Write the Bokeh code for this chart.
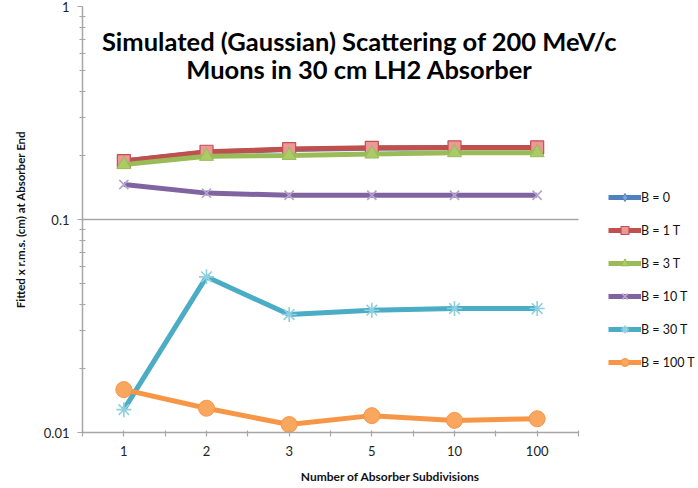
from bokeh.plotting import figure
from bokeh.models import FixedTicker, Label, Legend, LegendItem, Range1d
from bokeh.embed import file_html
from bokeh.resources import INLINE

# ---- data ----
subdivisions = ["1", "2", "3", "5", "10", "100"]
b0 = [0.188, 0.207, 0.213, 0.216, 0.217, 0.217]
b1 = [0.188, 0.208, 0.214, 0.217, 0.218, 0.218]
b3 = [0.181, 0.198, 0.200, 0.203, 0.206, 0.206]
b10 = [0.146, 0.133, 0.130, 0.130, 0.130, 0.130]
b30 = [0.0128, 0.0538, 0.0358, 0.0375, 0.0382, 0.0382]
b100 = [0.0159, 0.0130, 0.0109, 0.0120, 0.0114, 0.0116]

series_names = ["B = 0", "B = 1 T", "B = 3 T", "B = 10 T", "B = 30 T", "B = 100 T"]
series_values = [b0, b1, b3, b10, b30, b100]

y_major = [0.01, 0.1, 1.0]
y_major_labels = ["0.01", "0.1", "1"]

title_lines = ["Simulated (Gaussian) Scattering of 200 MeV/c", "Muons in 30 cm LH2 Absorber"]
y_label = "Fitted x r.m.s. (cm) at Absorber End"
x_label = "Number of Absorber Subdivisions"

FONT = "Lato"
xs = list(range(1, len(subdivisions) + 1))

# layout: the figure fills the whole window; the axis area is 496 px wide,
# the frame extends to the right edge so that the title and legend are not clipped
W, H = 698, 488
LEFT = 82
axis_px = 496
frame_px = W - LEFT
x_end = 0.5 + len(subdivisions) * frame_px / axis_px

p = figure(width=W, height=H, y_axis_type="log",
           x_range=Range1d(0.5, x_end),
           y_range=Range1d(y_major[0], y_major[-1]),
           output_backend="svg", toolbar_location=None,
           min_border_left=LEFT, min_border_right=0,
           min_border_top=6, min_border_bottom=56,
           margin=(0, 0, 0, 0))
p.outline_line_color = None
p.background_fill_color = "white"
p.border_fill_color = "white"

# axes
p.xaxis.ticker = FixedTicker(ticks=xs, minor_ticks=[x - 0.5 for x in xs] + [xs[-1] + 0.5])
p.xaxis.major_label_overrides = {x: s for x, s in zip(xs, subdivisions)}
p.xaxis.bounds = (0.5, len(subdivisions) + 0.5)
minor_y = [k * d for d in y_major[:-1] for k in range(2, 10)]
p.yaxis.ticker = FixedTicker(ticks=y_major, minor_ticks=minor_y)
p.yaxis.major_label_overrides = {v: s for v, s in zip(y_major, y_major_labels)}

for ax in (p.xaxis[0], p.yaxis[0]):
    ax.axis_line_color = "#A6A6A6"
    ax.axis_line_width = 1.5
    ax.major_tick_line_color = "#A6A6A6"
    ax.minor_tick_line_color = "#A6A6A6"
    ax.major_tick_line_width = 1.2
    ax.minor_tick_line_width = 1.2
    ax.major_label_text_font = FONT
    ax.major_label_text_font_size = "13px"
    ax.major_label_text_color = "#222222"
    ax.axis_label_text_font = FONT
    ax.axis_label_text_font_style = "bold"
    ax.axis_label_text_color = "#111111"

p.xaxis.major_tick_in = 2
p.xaxis.major_tick_out = 4
p.xaxis.minor_tick_in = 2
p.xaxis.minor_tick_out = 4
p.xaxis.major_label_standoff = 9
p.xaxis.axis_label = x_label
p.xaxis.axis_label_text_font_size = "12px"
p.xaxis.axis_label_standoff = 10

p.yaxis.major_tick_in = 0
p.yaxis.major_tick_out = 5
p.yaxis.minor_tick_in = 3
p.yaxis.minor_tick_out = 3
p.yaxis.major_label_standoff = 8
p.yaxis.axis_label = y_label
p.yaxis.axis_label_text_font_size = "11.5px"
p.yaxis.axis_label_standoff = 14

p.xgrid.grid_line_color = None
p.ygrid.grid_line_color = "#A6A6A6"
p.ygrid.grid_line_width = 1.5
p.ygrid.cross_bounds = (0.5, len(subdivisions) + 0.5)

# series styles
styles = [
    dict(color="#4F81BD", marker="diamond", fill="#7FA3D3", size=14, lw=1.0),
    dict(color="#C0504D", marker="square", fill="#EC9896", size=13, lw=1.2),
    dict(color="#9BBB59", marker="triangle", fill="#A9CC66", size=14, lw=1.0),
    dict(color="#8064A2", marker="x", fill="#B4A4CC", size=13, lw=1.6),
    dict(color="#4BACC6", marker="asterisk", fill="#8ED0E0", size=15, lw=1.6),
    dict(color="#F79646", marker="circle", fill="#F9A75E", size=16, lw=1.0),
]

items = []
for name, vals, st in zip(series_names, series_values, styles):
    ln = p.line(xs, vals, line_color=st["color"], line_width=5)
    if st["marker"] in ("x", "asterisk"):
        mk = p.scatter(xs, vals, marker=st["marker"], size=st["size"],
                       line_color=st["fill"], line_width=st["lw"])
    else:
        mk = p.scatter(xs, vals, marker=st["marker"], size=st["size"],
                       fill_color=st["fill"], line_color=st["color"], line_width=st["lw"])
    items.append(LegendItem(label=name, renderers=[ln, mk]))

legend = Legend(items=items, location=(526, 60), orientation="vertical",
                glyph_width=33, glyph_height=20, spacing=13, padding=0,
                label_standoff=0, border_line_color=None, background_fill_alpha=0,
                label_text_font=FONT, label_text_font_size="12.5px",
                label_text_color="#111111")
p.add_layout(legend, "center")

# title inside plot area
for i, t in enumerate(title_lines):
    p.add_layout(Label(x=277, y=392 - 28 * i, x_units="screen", y_units="screen",
                       text=t, text_align="center", text_baseline="middle",
                       text_font=FONT, text_font_style="bold",
                       text_font_size="25.5px", text_color="black"))

open("out.html", "w").write(file_html(p, INLINE))
